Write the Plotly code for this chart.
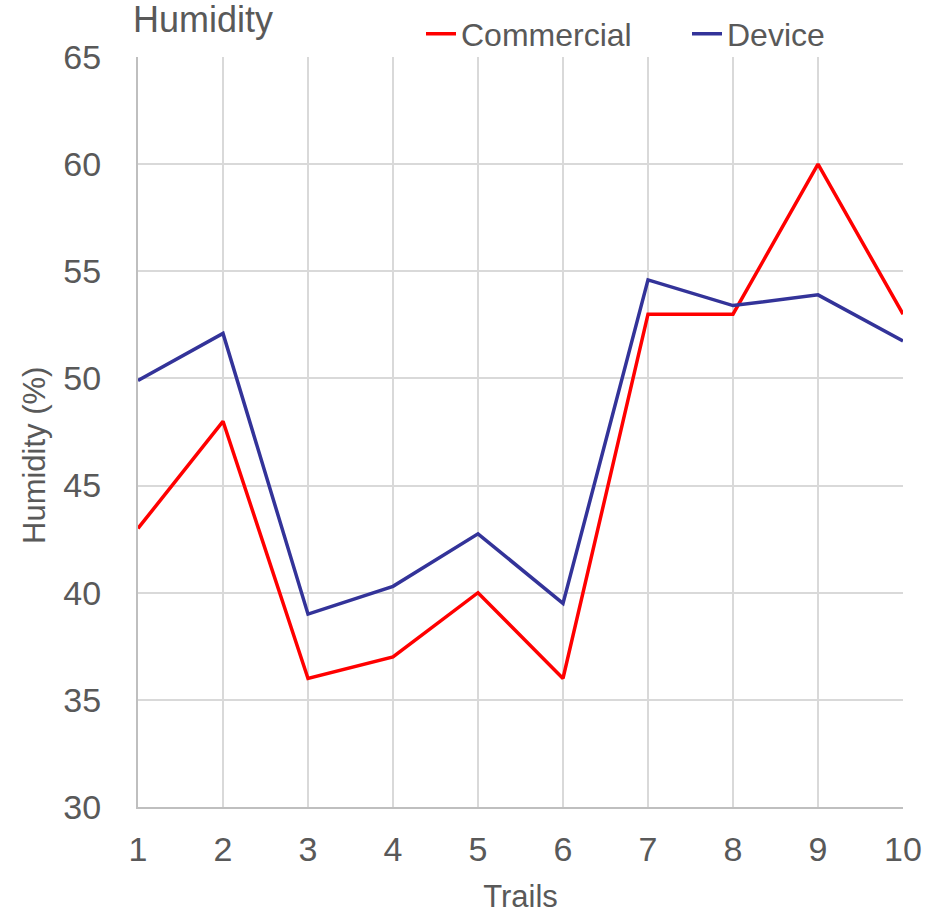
import plotly.graph_objects as go

trails = [1, 2, 3, 4, 5, 6, 7, 8, 9, 10]
commercial = [43, 48, 36, 37, 40, 36, 53, 53, 60, 53]
device = [49.9, 52.1, 39.0, 40.3, 42.75, 39.5, 54.6, 53.4, 53.9, 51.75]
y_ticks = [30, 35, 40, 45, 50, 55, 60, 65]

FONT = "Liberation Sans, Arial, sans-serif"
GREY = "#595959"
fig = go.Figure()
fig.add_trace(go.Scatter(x=trails, y=commercial, mode="lines", name="Commercial",
                         line=dict(color="#ff0000", width=3.5)))
fig.add_trace(go.Scatter(x=trails, y=device, mode="lines", name="Device",
                         line=dict(color="#333399", width=3.5)))

fig.update_layout(
    width=929, height=914,
    margin=dict(l=138, r=26, t=57, b=107, autoexpand=False),
    paper_bgcolor="white", plot_bgcolor="white",
    font=dict(family=FONT, color=GREY),
    showlegend=True,
    legend=dict(orientation="h", x=(421 - 138) / 765, xanchor="left",
                y=(807 - 34) / 750, yanchor="middle",
                font=dict(size=32, color=GREY), entrywidth=221, entrywidthmode="pixels",
                bgcolor="rgba(0,0,0,0)", borderwidth=0),
    annotations=[
        dict(text="Humidity", x=(131 - 138) / 765, xref="paper",
             y=(807 - 19) / 750, yref="paper",
             xanchor="left", yanchor="middle", showarrow=False,
             font=dict(size=36, color=GREY, family=FONT)),
        dict(text="Humidity (%)", x=(34 - 138) / 765, xref="paper",
             y=(807 - 456) / 750, yref="paper", textangle=-90,
             xanchor="center", yanchor="middle", showarrow=False,
             font=dict(size=31, color=GREY, family=FONT)),
    ],
)
fig.update_xaxes(range=[1, 10], tickvals=trails, ticktext=[str(t) for t in trails],
                 showgrid=True, gridcolor="#d9d9d9", gridwidth=2,
                 showline=True, linecolor="#bfbfbf", linewidth=2,
                 tickfont=dict(size=34, color=GREY),
                 ticks="outside", ticklen=11, tickcolor="rgba(0,0,0,0)",
                 title=dict(text="Trails", font=dict(size=31, color=GREY), standoff=25),
                 zeroline=False, automargin=False)
fig.update_yaxes(range=[30, 65], tickvals=y_ticks,
                 showgrid=True, gridcolor="#d9d9d9", gridwidth=2,
                 showline=True, linecolor="#bfbfbf", linewidth=2,
                 tickfont=dict(size=34, color=GREY),
                 ticks="outside", ticklen=28, tickcolor="rgba(0,0,0,0)",
                 zeroline=False, automargin=False)

fig.write_html("out.html", config={"displayModeBar": False},
               post_script="document.body.style.margin='0';")
